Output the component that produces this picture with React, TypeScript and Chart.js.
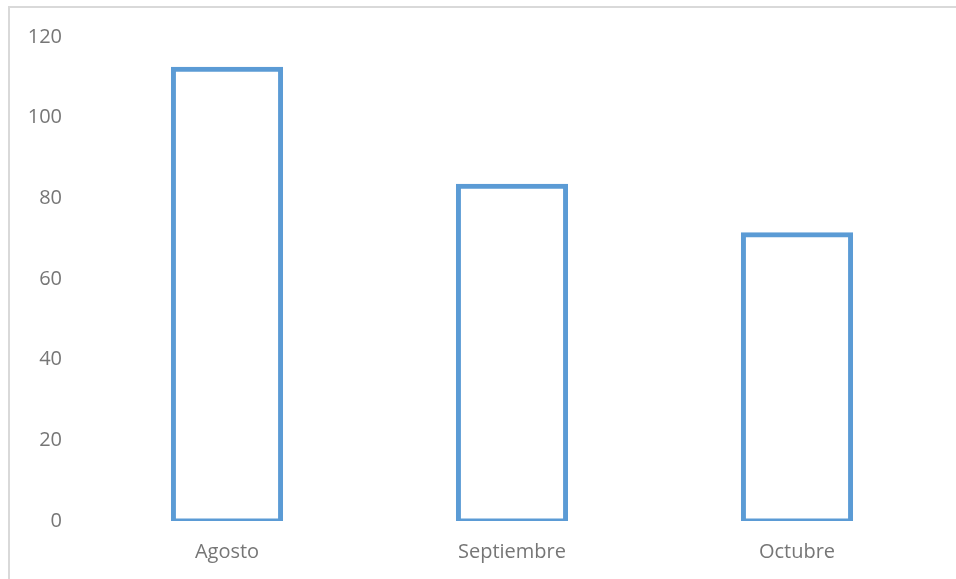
import React, { useEffect, useRef } from "react";
import { Chart, registerables } from "chart.js";

Chart.register(...registerables);

const categories = ["Agosto", "Septiembre", "Octubre"];
const values = [112, 83, 71];
const yTicks = [0, 20, 40, 60, 80, 100, 120];

export default function App() {
  const ref = useRef<HTMLCanvasElement | null>(null);

  useEffect(() => {
    if (!ref.current) return;
    const font = { family: "'Open Sans', 'Liberation Sans', sans-serif", size: 20 };
    const chart = new Chart(ref.current, {
      type: "bar",
      data: {
        labels: categories,
        datasets: [
          {
            data: values,
            backgroundColor: "#ffffff",
            borderColor: "#5B9BD5",
            borderWidth: 5,
            borderSkipped: false,
            inflateAmount: 2.5,
            categoryPercentage: 1,
            barPercentage: 0.376,
          },
        ],
      },
      options: {
        animation: false,
        responsive: false,
        maintainAspectRatio: false,
        layout: { padding: { top: 37, right: 16.5, bottom: 0, left: 0 } },
        plugins: { legend: { display: false }, tooltip: { enabled: false } },
        scales: {
          x: {
            grid: { display: false, drawTicks: false },
            border: { display: false },
            ticks: { color: "#767676", font, padding: 19 },
            afterFit: (s: any) => {
              s.height = 58;
            },
          },
          y: {
            min: 0,
            max: 120,
            grid: { display: false, drawTicks: false },
            border: { display: false },
            afterBuildTicks: (s: any) => {
              s.ticks = yTicks.map((v) => ({ value: v }));
            },
            ticks: { color: "#767676", font, padding: 22.5 },
            afterFit: (s: any) => {
              s.width = 84.5;
            },
          },
        },
      },
    });
    return () => chart.destroy();
  }, []);

  return (
    <div style={{ position: "fixed", left: 0, top: 0, width: 956, height: 579, background: "#fff", overflow: "hidden" }}>
      <div
        style={{
          position: "absolute",
          left: 8,
          top: 6,
          width: 2000,
          height: 2000,
          borderTop: "2px solid #d9d9d9",
          borderLeft: "2px solid #d9d9d9",
        }}
      />
      <canvas ref={ref} width={956} height={579} style={{ position: "absolute", left: 0, top: 0 }} />
    </div>
  );
}
